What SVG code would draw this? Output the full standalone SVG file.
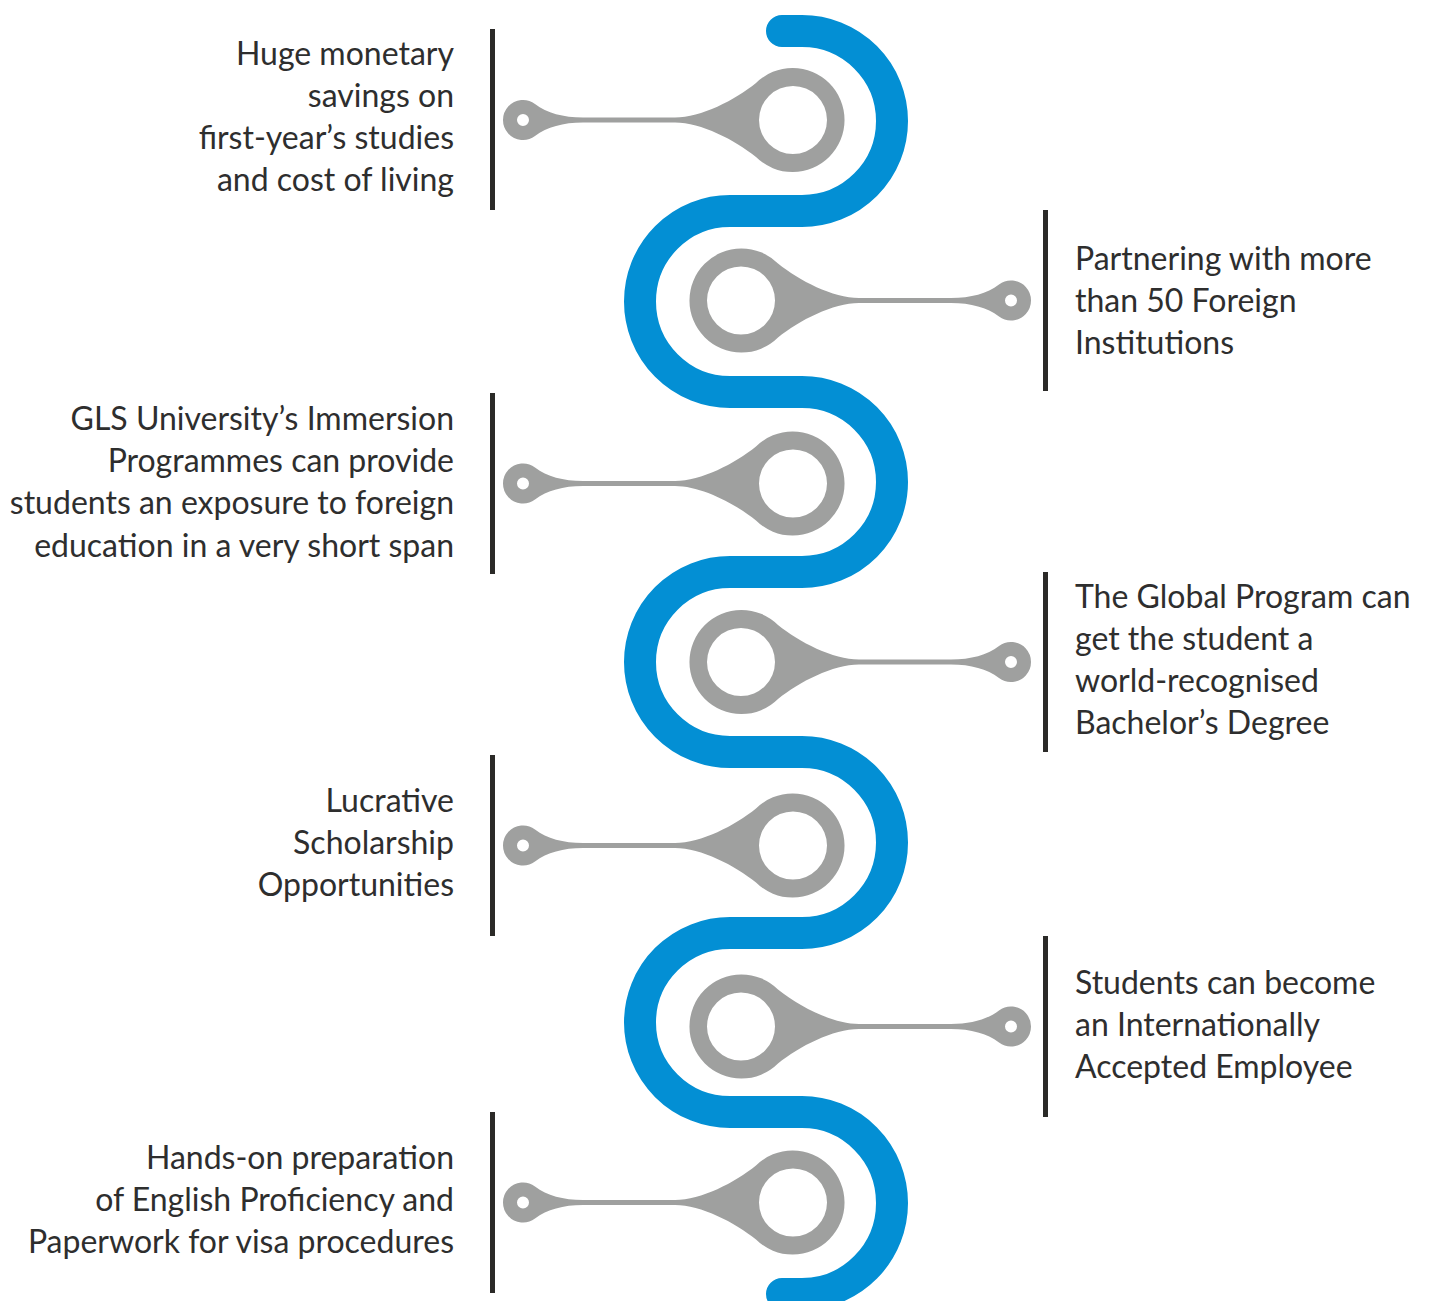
<svg xmlns="http://www.w3.org/2000/svg" width="1430" height="1301" viewBox="0 0 1430 1301">
<style>
.t{font-family:Lato,"Liberation Sans",sans-serif;font-size:32px;fill:#2e2e2e}
.l{text-anchor:end}
.bar{fill:#2b2a28}
.kh{fill:#9fa09f}
.snake{fill:none;stroke:#038fd4;stroke-width:32;stroke-linecap:round}
</style>
<defs>
<path id="kh" fill-rule="evenodd" d="M -37 -37 C -58 -20 -92 -2.5 -118 -2.5 L -210 -2.5 C -230 -2.5 -246 -7 -258 -16 A 20 20 0 1 0 -258 16 C -246 7 -230 2.5 -210 2.5 L -118 2.5 C -92 2.5 -58 20 -37 37 A 52 52 0 1 0 -37 -37 Z M 34 0 A 34 34 0 1 0 -34 0 A 34 34 0 1 0 34 0 Z M -264 0 A 6 6 0 1 0 -276 0 A 6 6 0 1 0 -264 0 Z"/>
</defs>
<rect width="1430" height="1301" fill="#ffffff"/>
<g id="connectors">
<path class="snake" d="M 782 31 L 802 31 A 90 90 0 0 1 802 211 L 730 211 A 90 90.5 0 0 0 730 392 L 802 392 A 90 90 0 0 1 802 572 L 730 572 A 90 90 0 0 0 730 752 L 802 752 A 90 90.5 0 0 1 802 933 L 730 933 A 90 89.5 0 0 0 730 1112 L 802 1112 A 90 91 0 0 1 802 1294 L 782 1294"/>
</g>
<g id="node1">
<use href="#kh" class="kh" transform="translate(793,120)"/>
<rect class="bar" x="490" y="29" width="5" height="181"/>
<text class="t l"><tspan x="454" y="65">Huge monetary</tspan><tspan x="454" y="107">savings on</tspan><tspan x="454" y="149">first-year’s studies</tspan><tspan x="454" y="191">and cost of living</tspan></text>
</g>
<g id="node2">
<use href="#kh" class="kh" transform="translate(741,300.5) scale(-1,1)"/>
<rect class="bar" x="1043" y="210" width="5" height="181"/>
<text class="t"><tspan x="1075" y="270">Partnering with more</tspan><tspan x="1075" y="312">than 50 Foreign</tspan><tspan x="1075" y="354">Institutions</tspan></text>
</g>
<g id="node3">
<use href="#kh" class="kh" transform="translate(793,483.5)"/>
<rect class="bar" x="490" y="393" width="5" height="181"/>
<text class="t l"><tspan x="454" y="430">GLS University’s Immersion</tspan><tspan x="454" y="472">Programmes can provide</tspan><tspan x="454" y="514">students an exposure to foreign</tspan><tspan x="454" y="557">education in a very short span</tspan></text>
</g>
<g id="node4">
<use href="#kh" class="kh" transform="translate(741,662) scale(-1,1)"/>
<rect class="bar" x="1043" y="572" width="5" height="180"/>
<text class="t"><tspan x="1075" y="608">The Global Program can</tspan><tspan x="1075" y="650">get the student a</tspan><tspan x="1075" y="692">world-recognised</tspan><tspan x="1075" y="734">Bachelor’s Degree</tspan></text>
</g>
<g id="node5">
<use href="#kh" class="kh" transform="translate(793,845.5)"/>
<rect class="bar" x="490" y="755" width="5" height="181"/>
<text class="t l"><tspan x="454" y="812">Lucrative</tspan><tspan x="454" y="854">Scholarship</tspan><tspan x="454" y="896">Opportunities</tspan></text>
</g>
<g id="node6">
<use href="#kh" class="kh" transform="translate(741,1026.5) scale(-1,1)"/>
<rect class="bar" x="1043" y="936" width="5" height="181"/>
<text class="t"><tspan x="1075" y="994">Students can become</tspan><tspan x="1075" y="1036">an Internationally</tspan><tspan x="1075" y="1078">Accepted Employee</tspan></text>
</g>
<g id="node7">
<use href="#kh" class="kh" transform="translate(793,1202.5)"/>
<rect class="bar" x="490" y="1112" width="5" height="181"/>
<text class="t l"><tspan x="454" y="1169">Hands-on preparation</tspan><tspan x="454" y="1211">of English Proficiency and</tspan><tspan x="454" y="1253">Paperwork for visa procedures</tspan></text>
</g>
</svg>
